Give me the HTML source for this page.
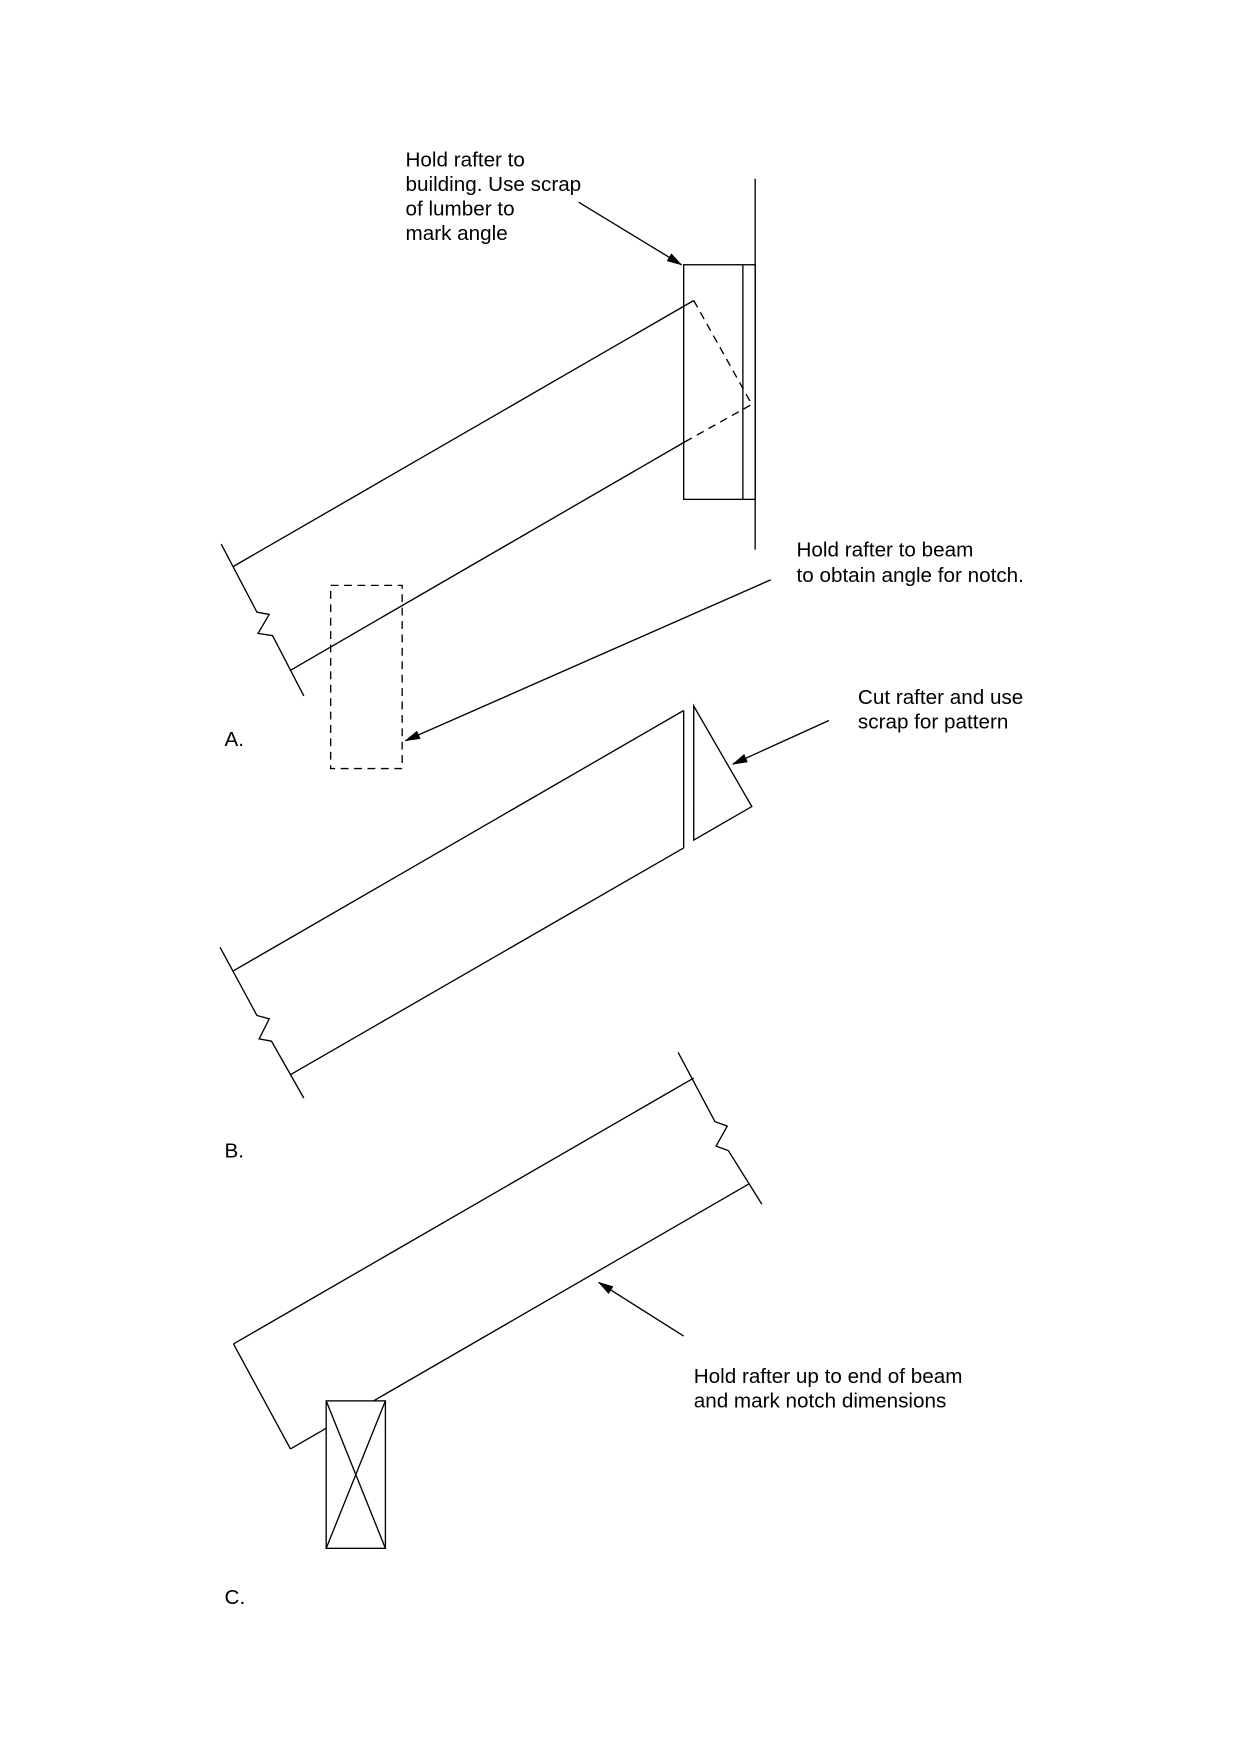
<!DOCTYPE html>
<html><head><meta charset="utf-8"><style>
html,body{margin:0;padding:0;background:#fff}
svg{display:block}
text{font-family:"Liberation Sans",Arial,sans-serif;font-size:18.5px;fill:#000}
</style></head><body>
<svg width="1240" height="1755" viewBox="0 0 1110 1571" preserveAspectRatio="none" xmlns="http://www.w3.org/2000/svg">
<defs><marker id="ah" markerWidth="14" markerHeight="8" refX="13" refY="4" orient="auto" markerUnits="userSpaceOnUse"><path d="M0,0 L14,4 L0,8 z" fill="#000"/></marker></defs>
<g stroke="#000" stroke-width="1.2" fill="none">
<line x1="676" y1="160" x2="676" y2="492"/>
<rect x="612" y="237" width="64" height="210" fill="#fff"/>
<line x1="665" y1="237" x2="665" y2="447"/>
<line x1="209" y1="507" x2="621" y2="269"/>
<line x1="260" y1="600" x2="614" y2="395"/>
<path d="M621,269 L673,362 L614,395" stroke-dasharray="7,5"/>
<polyline points="198,487 230,548 241,550 231,567 244,569 272,623"/>
<rect x="296" y="524" width="64" height="164" stroke-dasharray="7,5"/>
<line x1="690" y1="519" x2="363" y2="663" marker-end="url(#ah)"/>
<line x1="518" y1="181" x2="610" y2="237" marker-end="url(#ah)"/>
<line x1="209" y1="869" x2="612" y2="636"/>
<line x1="260" y1="962" x2="612" y2="759"/>
<line x1="612" y1="636" x2="612" y2="759"/>
<polygon points="621,632 621,752 673,722"/>
<line x1="742" y1="645" x2="656" y2="684" marker-end="url(#ah)"/>
<polyline points="197,848 230,909 241,912 232,930 243,932 272,983"/>
<line x1="209" y1="1203" x2="621" y2="965"/>
<line x1="260" y1="1297" x2="670" y2="1060"/>
<line x1="209" y1="1203" x2="260" y2="1297"/>
<polyline points="607,942 640,1004 651,1008 641,1026 652,1030 682,1078"/>
<rect x="292" y="1254" width="53" height="132" fill="#fff"/>
<line x1="292" y1="1254" x2="345" y2="1386"/>
<line x1="345" y1="1254" x2="292" y2="1386"/>
<line x1="612" y1="1196" x2="536" y2="1148" marker-end="url(#ah)"/>
</g>
<text x="363" y="149">Hold rafter to</text>
<text x="363" y="171">building. Use scrap</text>
<text x="363" y="193">of lumber to</text>
<text x="363" y="215">mark angle</text>
<text x="713" y="498">Hold rafter to beam</text>
<text x="713" y="521">to obtain angle for notch.</text>
<text x="201" y="668">A.</text>
<text x="768" y="630">Cut rafter and use</text>
<text x="768" y="652">scrap for pattern</text>
<text x="201" y="1036">B.</text>
<text x="621" y="1238">Hold rafter up to end of beam</text>
<text x="621" y="1260">and mark notch dimensions</text>
<text x="201" y="1436">C.</text>
</svg>
</body></html>
